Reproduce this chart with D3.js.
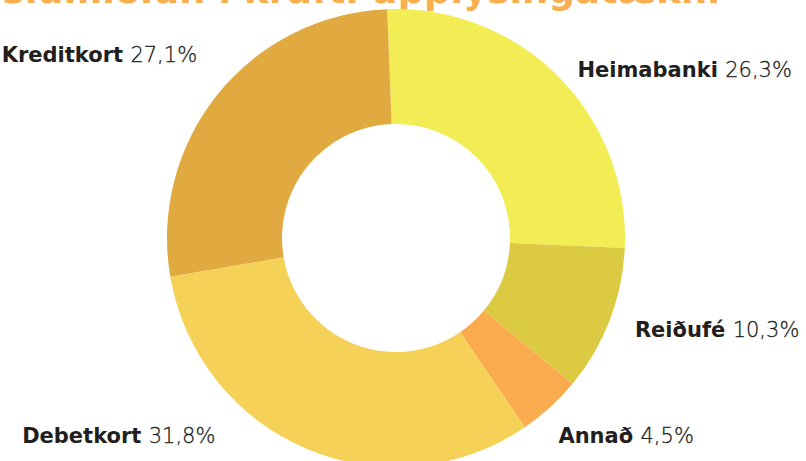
<!DOCTYPE html>
<html lang="is">

<head>
  <meta charset="UTF-8">
  <title>Greiðslumiðlun</title>
  <script src="https://d3js.org/d3.v7.min.js"></script>
  <style>
    body {
      margin: 0;
      background: #fff;
    }

    .name {
      font-family: "DejaVu Sans", sans-serif;
      font-weight: bold;
      fill: #231f20;
    }

    .value {
      font-family: "DejaVu Sans", sans-serif;
      font-weight: 200;
      fill: #231f20;
      stroke: #231f20;
      stroke-width: 0.3px;
    }

    .title {
      font-family: "DejaVu Sans", sans-serif;
      font-weight: bold;
      fill: #f9ae4f;
    }
  </style>
</head>

<body>
  <div id="chart"></div>

  <script>
    const categories = ["Heimabanki", "Reiðufé", "Annað", "Debetkort", "Kreditkort"];
    const shares = [26.3, 10.3, 4.5, 31.8, 27.1];
    const colors = ["#f2ec55", "#dcca42", "#f9ab4d", "#f5d157", "#e0aa40"];
    const titleText = "Greiðslumiðlun í krafti upplýsingatækni";

    const width = 806;
    const height = 461;
    const cx = 396, cy = 238;
    const outerR = 229, innerR = 114;
    const labelR = 256;
    const startAngle = -2.2 * Math.PI / 180;

    const data = categories.map((c, i) => ({ name: c, value: shares[i], color: colors[i] }));

    const svg = d3.select("#chart").append("svg")
      .attr("width", width)
      .attr("height", height);

    // title sits mostly above the top edge, as in the original crop
    svg.append("text")
      .attr("class", "title")
      .attr("x", 720)
      .attr("y", 3)
      .attr("text-anchor", "end")
      .attr("font-size", "37px")
      .text(titleText);

    const pie = d3.pie()
      .value(d => d.value)
      .sort(null)
      .startAngle(startAngle)
      .endAngle(startAngle + 2 * Math.PI);

    const arc = d3.arc().innerRadius(innerR).outerRadius(outerR);

    const g = svg.append("g")
      .attr("transform", `translate(${cx},${cy})`);

    const arcs = pie(data);

    g.selectAll("path")
      .data(arcs)
      .enter().append("path")
      .attr("d", arc)
      .attr("fill", d => d.data.color);

    // labels around the ring; bottom ones are held above the edge and pushed outward
    const fmt = v => d3.format(".1f")(v).replace(".", ",") + "%";
    const maxY = 198;

    const labels = g.selectAll(".label")
      .data(arcs)
      .enter().append("text")
      .attr("class", "label")
      .attr("font-size", "21px")
      .attr("dy", "0.35em")
      .each(function (d) {
        const a = (d.startAngle + d.endAngle) / 2;
        let x = labelR * Math.sin(a);
        let y = -labelR * Math.cos(a);
        if (y > maxY) {
          const r = labelR + 12;
          y = maxY;
          x = Math.sign(x) * Math.sqrt(r * r - y * y);
        }
        // top labels: keep the left one a bit higher than the right one
        if (y < -120) y += x > 0 ? 12 : -22;
        if (y > 150 && x > 0) { y += 8; x -= 10; }
        d3.select(this)
          .attr("x", x)
          .attr("y", y)
          .attr("text-anchor", x >= 0 ? "start" : "end");
      });

    labels.append("tspan").attr("class", "name").text(d => d.data.name + " ");
    labels.append("tspan").attr("class", "value").text(d => fmt(d.data.value));
  </script>
</body>

</html>
